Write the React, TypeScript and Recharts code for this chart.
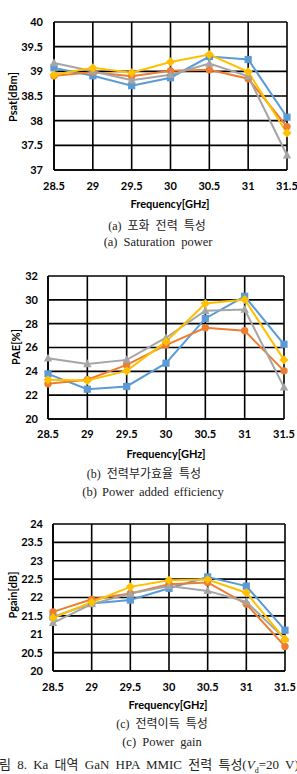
import React from 'react';
import { LineChart, Line, XAxis, YAxis, CartesianGrid } from 'recharts';

// Frequencies in GHz
const frequencies = ['28.5', '29', '29.5', '30', '30.5', '31', '31.5'];

// Saturation power Psat [dBm]
const psatBlue = [39.07, 38.91, 38.71, 38.87, 39.3, 39.24, 38.07];
const psatOrange = [38.91, 38.98, 38.9, 39.01, 39.03, 38.85, 37.88];
const psatGray = [39.17, 39.0, 38.82, 38.93, 39.16, 38.9, 37.3];
const psatYellow = [38.93, 39.07, 38.97, 39.19, 39.34, 38.99, 37.75];

// Power added efficiency PAE [%]
const paeBlue = [23.79, 22.5, 22.73, 24.68, 28.44, 30.3, 26.27];
const paeOrange = [22.95, 23.29, 24.54, 26.2, 27.66, 27.4, 24.04];
const paeGray = [25.1, 24.62, 24.96, 26.82, 29.08, 29.19, 22.65];
const paeYellow = [23.29, 23.23, 24.04, 26.49, 29.69, 30.03, 24.96];

// Power gain Pgain [dB]
const gainBlue = [21.47, 21.84, 21.93, 22.25, 22.56, 22.31, 21.11];
const gainOrange = [21.61, 21.95, 22.11, 22.36, 22.41, 21.82, 20.67];
const gainGray = [21.31, 21.82, 22.11, 22.31, 22.18, 21.88, 20.88];
const gainYellow = [21.45, 21.87, 22.29, 22.47, 22.49, 22.13, 20.86];

// Y-axis ticks
const psatTicks = [37, 37.5, 38, 38.5, 39, 39.5, 40];
const paeTicks = [20, 22, 24, 26, 28, 30, 32];
const gainTicks = [20, 20.5, 21, 21.5, 22, 22.5, 23, 23.5, 24];

const BLUE = '#5B9BD5';
const ORANGE = '#ED7D31';
const GRAY = '#A5A5A5';
const YELLOW = '#FFC000';

const tickFont = { fontFamily: 'Lato, sans-serif', fontWeight: 700, fontSize: 11, fill: '#000' };

const buildRows = (a: number[], b: number[], c: number[], d: number[]) =>
  frequencies.map((f, i) => ({ f, a: a[i], b: b[i], c: c[i], d: d[i] }));

const Square = (p: any) => (
  <rect key={`s${p.index}`} x={p.cx - 3.6} y={p.cy - 3.6} width={7.2} height={7.2} fill={BLUE} />
);
const Circle = (p: any) => <circle key={`c${p.index}`} cx={p.cx} cy={p.cy} r={3.7} fill={ORANGE} />;
const Triangle = (p: any) => (
  <polygon
    key={`t${p.index}`}
    points={`${p.cx},${p.cy - 4.6} ${p.cx - 4.2},${p.cy + 3.2} ${p.cx + 4.2},${p.cy + 3.2}`}
    fill={GRAY}
  />
);
const Diamond = (p: any) => (
  <polygon
    key={`d${p.index}`}
    points={`${p.cx},${p.cy - 4.6} ${p.cx + 4.6},${p.cy} ${p.cx},${p.cy + 4.6} ${p.cx - 4.6},${p.cy}`}
    fill={YELLOW}
  />
);

type PanelProps = {
  top: number;
  height: number;
  marginTop: number;
  marginRight: number;
  yWidth: number;
  yTickMargin: number;
  xTickMargin: number;
  ticks: number[];
  rows: any[];
};

function Panel({ top, height, marginTop, marginRight, yWidth, yTickMargin, xTickMargin, ticks, rows }: PanelProps) {
  return (
    <div style={{ position: 'absolute', left: 0, top }}>
      <LineChart
        width={297}
        height={height}
        data={rows}
        margin={{ top: marginTop, right: marginRight, left: 0, bottom: 0 }}
      >
        <CartesianGrid stroke="#000" strokeWidth={1.6} />
        <XAxis
          dataKey="f"
          type="category"
          scale="point"
          padding={{ left: 0, right: 0 }}
          height={30}
          tickSize={0}
          tickMargin={xTickMargin}
          axisLine={{ stroke: '#000', strokeWidth: 1.6 }}
          tick={tickFont}
          interval={0}
        />
        <YAxis
          width={yWidth}
          domain={[ticks[0], ticks[ticks.length - 1]]}
          ticks={ticks}
          type="number"
          tickSize={0}
          tickMargin={yTickMargin}
          axisLine={{ stroke: '#000', strokeWidth: 1.6 }}
          tick={tickFont}
          interval={0}
        />
        <Line dataKey="a" stroke={BLUE} strokeWidth={2} dot={Square} activeDot={false} isAnimationActive={false} />
        <Line dataKey="b" stroke={ORANGE} strokeWidth={2} dot={Circle} activeDot={false} isAnimationActive={false} />
        <Line dataKey="c" stroke={GRAY} strokeWidth={2} dot={Triangle} activeDot={false} isAnimationActive={false} />
        <Line dataKey="d" stroke={YELLOW} strokeWidth={2} dot={Diamond} activeDot={false} isAnimationActive={false} />
      </LineChart>
    </div>
  );
}

const centered = (x: number, y: number, extra: React.CSSProperties = {}): React.CSSProperties => ({
  position: 'absolute',
  left: x,
  top: y,
  transform: 'translate(-50%, -50%)',
  whiteSpace: 'nowrap',
  lineHeight: 1,
  color: '#000',
  ...extra,
});

const axisTitle: React.CSSProperties = { fontFamily: 'Lato, sans-serif', fontWeight: 700, fontSize: 11 };
const captionKo: React.CSSProperties = {
  fontFamily: '"Liberation Serif", "Noto Sans CJK KR", serif',
  fontSize: 12,
  wordSpacing: 3,
  color: '#222',
};
const captionEn: React.CSSProperties = {
  fontFamily: '"Liberation Serif", serif',
  fontSize: 12.5,
  wordSpacing: 3,
  color: '#222',
};

export default function App() {
  return (
    <div
      style={{
        position: 'fixed',
        left: 0,
        top: 0,
        width: 297,
        height: 774,
        overflow: 'hidden',
        background: '#fff',
      }}
    >
      <Panel
        top={0}
        height={200}
        marginTop={22}
        marginRight={10}
        yWidth={54}
        yTickMargin={11}
        xTickMargin={12}
        ticks={psatTicks}
        rows={buildRows(psatBlue, psatOrange, psatGray, psatYellow)}
      />
      <div style={centered(12, 97, { ...axisTitle, transform: 'translate(-50%, -50%) rotate(-90deg)' })}>Psat[dBm]</div>
      <div style={centered(170, 203, axisTitle)}>Frequency[GHz]</div>
      <div style={centered(157, 226, captionKo)}>(a) 포화 전력 특성</div>
      <div style={centered(158, 242, captionEn)}>(a) Saturation power</div>

      <Panel
        top={250}
        height={199}
        marginTop={26}
        marginRight={13}
        yWidth={48}
        yTickMargin={10}
        xTickMargin={11}
        ticks={paeTicks}
        rows={buildRows(paeBlue, paeOrange, paeGray, paeYellow)}
      />
      <div style={centered(15, 347, { ...axisTitle, transform: 'translate(-50%, -50%) rotate(-90deg)' })}>PAE[%]</div>
      <div style={centered(166, 453, axisTitle)}>Frequency[GHz]</div>
      <div style={centered(144, 474, captionKo)}>(b) 전력부가효율 특성</div>
      <div style={centered(153, 492, { ...captionEn, wordSpacing: 2 })}>(b) Power added efficiency</div>

      <Panel
        top={500}
        height={201}
        marginTop={24}
        marginRight={12}
        yWidth={53}
        yTickMargin={10}
        xTickMargin={12}
        ticks={gainTicks}
        rows={buildRows(gainBlue, gainOrange, gainGray, gainYellow)}
      />
      <div style={centered(12, 595, { ...axisTitle, transform: 'translate(-50%, -50%) rotate(-90deg)' })}>Pgain[dB]</div>
      <div style={centered(168, 704, axisTitle)}>Frequency[GHz]</div>
      <div style={centered(162, 724, captionKo)}>(c) 전력이득 특성</div>
      <div style={centered(162, 742, captionEn)}>(c) Power gain</div>

      <div
        style={{
          position: 'absolute',
          left: -13,
          top: 758,
          whiteSpace: 'nowrap',
          lineHeight: 1,
          fontFamily: '"Liberation Serif", "Noto Sans CJK KR", serif',
          fontSize: 13,
          wordSpacing: 3,
          color: '#222',
        }}
      >
        그림 8. Ka 대역 GaN HPA MMIC 전력 특성(<i>V</i>
        <sub style={{ fontSize: 8 }}>d</sub>=20 V)
      </div>
    </div>
  );
}
